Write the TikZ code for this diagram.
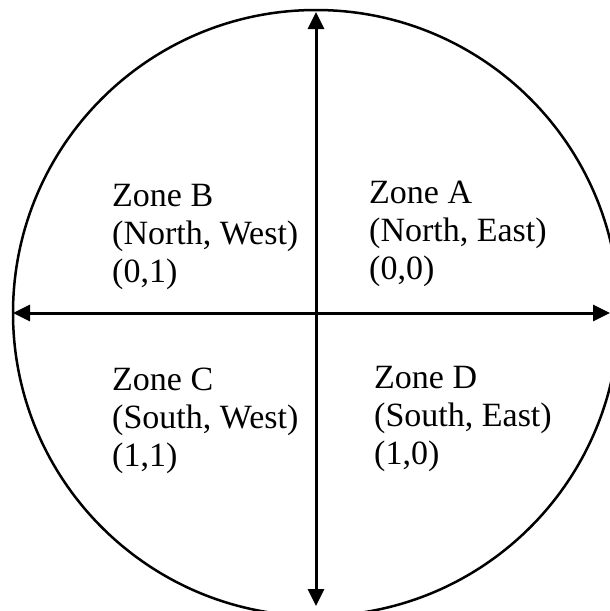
\documentclass[tikz,border=0pt]{standalone}
\usepackage{fontspec}
\setmainfont{Liberation Serif}
\usetikzlibrary{arrows.meta}
\usetikzlibrary{positioning}

\begin{document}
\begin{tikzpicture}[
    x=1pt, y=-1pt,
    zone/.style={anchor=north west, inner sep=0pt, align=left, font=\fontsize{34}{38}\selectfont},
    axis/.style={{Triangle[length=17pt,width=16pt]}-{Triangle[length=17pt,width=16pt]}, line width=3pt},
    rim/.style={draw, circle, line width=2.5pt, minimum size=606pt, inner sep=0pt}
]
\useasboundingbox (0,0) rectangle (610,611);

% =========================================================================
% CÍRCULO E EIXOS
% =========================================================================
\node[rim] (disc) at (316,313) {};

\coordinate (tipN) at (316,12);
\coordinate (tipS) at (316,606);
\coordinate (tipW) at (13,313);
\coordinate (tipE) at (610,313);

\draw[axis] (tipN) -- (tipS);
\draw[axis] (tipW) -- (tipE);

% =========================================================================
% ZONAS (quadrantes)
% =========================================================================
\node[zone] (zoneB) at (112,184) {Zone B\\(North, West)\\(0,1)};
\node[zone] (zoneA) at (369,181) {Zone A\\(North, East)\\(0,0)};
\node[zone] (zoneC) at (112,368) {Zone C\\(South, West)\\(1,1)};
\node[zone] (zoneD) at (374,366) {Zone D\\(South, East)\\(1,0)};

\end{tikzpicture}
\end{document}
